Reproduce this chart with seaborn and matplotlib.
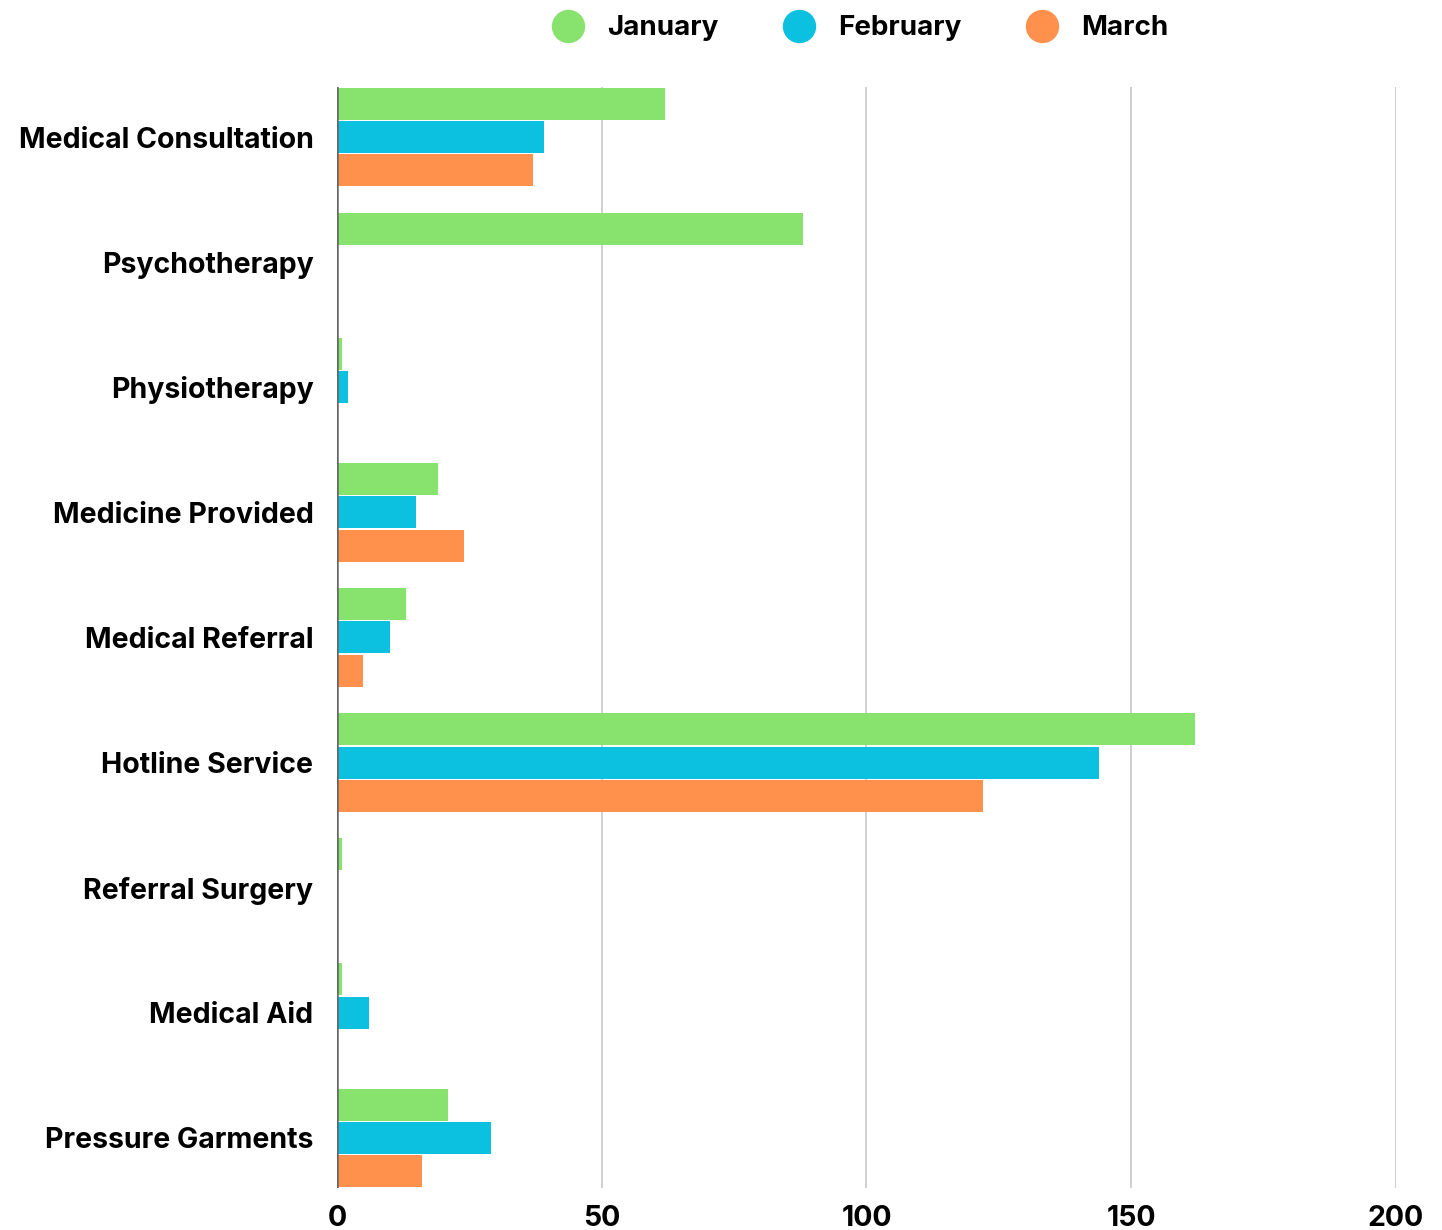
import matplotlib
matplotlib.use("Agg")
import matplotlib.pyplot as plt
from matplotlib.lines import Line2D
import seaborn as sns
import pandas as pd

categories = ["Medical Consultation", "Psychotherapy", "Physiotherapy", "Medicine Provided",
              "Medical Referral", "Hotline Service", "Referral Surgery", "Medical Aid",
              "Pressure Garments"]
months = ["January", "February", "March"]
january = [62, 88, 1, 19, 13, 162, 1, 1, 21]
february = [39, 0, 2, 15, 10, 144, 0, 6, 29]
march = [37, 0, 0, 24, 5, 122, 0, 0, 16]
x_ticks = [0, 50, 100, 150, 200]
colors = ["#88E26E", "#0CC0DF", "#FF914D"]

rows = []
for m, vals in zip(months, [january, february, march]):
    for c, v in zip(categories, vals):
        rows.append({"category": c, "month": m, "value": v})
df = pd.DataFrame(rows)

sns.set_theme(style="white")
plt.rcParams["font.family"] = ["Inter", "DejaVu Sans"]
plt.rcParams["text.color"] = "black"

fig = plt.figure(figsize=(14.42, 12.30), dpi=100)
ax = fig.add_axes([0.2337, 0.0342, 0.9681 - 0.2337, 0.9293 - 0.0342])

sns.barplot(data=df, y="category", x="value", hue="month", order=categories,
            hue_order=months, palette=colors, orient="h", width=0.8, gap=0.04,
            linewidth=0, saturation=1, ax=ax, legend=False, errorbar=None)

ax.set_xlim(0, 200)
ax.set_ylim(len(categories) - 1 + 0.4, -0.4)
ax.set_xticks(x_ticks)
ax.set_xticklabels([str(t) for t in x_ticks])
ax.set_xlabel("")
ax.set_ylabel("")
for s in ax.spines.values():
    s.set_visible(False)
for t in x_ticks[1:]:
    ax.axvline(t, color="#CCCCCC", linewidth=1.3, zorder=0)
ax.axvline(0, color="#666666", linewidth=1.8, zorder=5)
ax.tick_params(axis="both", length=0, labelsize=20.5, colors="black")
ax.tick_params(axis="x", pad=12)
ax.tick_params(axis="y", pad=17)
for lbl in ax.get_xticklabels() + ax.get_yticklabels():
    lbl.set_fontweight("bold")

handles = [Line2D([0], [0], marker="o", linestyle="", markersize=23,
                  markerfacecolor=c, markeredgecolor=c) for c in colors]
leg = fig.legend(handles, months, loc="center", bbox_to_anchor=(0.5925, 0.977), ncol=3,
                 frameon=False, handletextpad=0.4, columnspacing=1.9,
                 prop={"weight": "bold", "size": 20})
for t in leg.get_texts():
    t.set_color("black")

fig.savefig("out.png", dpi=100)
